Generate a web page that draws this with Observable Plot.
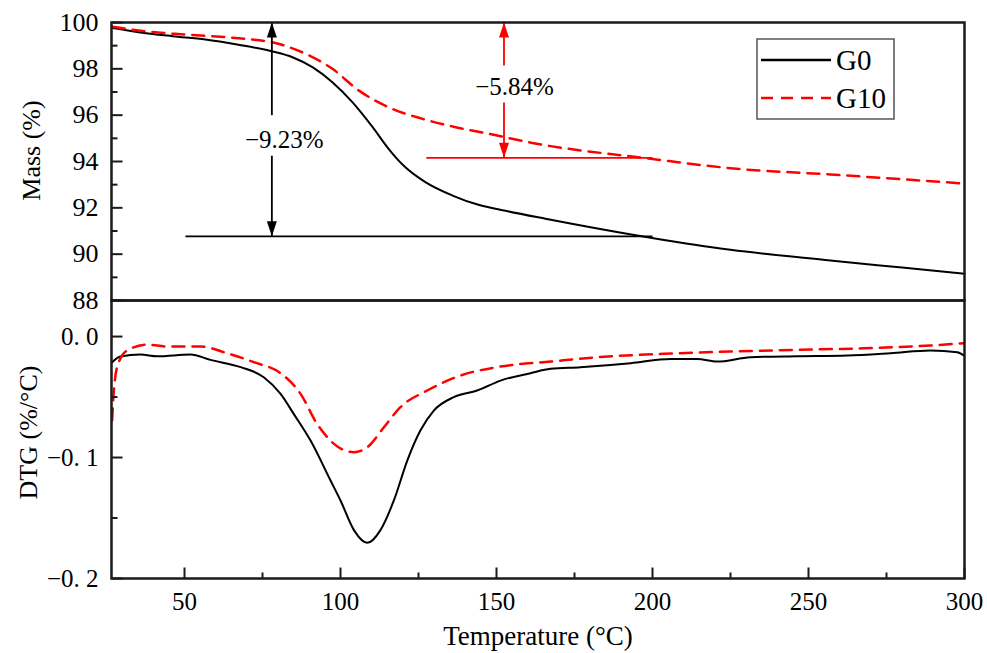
<!DOCTYPE html>
<html><head><meta charset="utf-8">
<script src="https://cdn.jsdelivr.net/npm/d3@7"></script>
<script src="https://cdn.jsdelivr.net/npm/@observablehq/plot@0.6"></script>
<style>
html,body{margin:0;padding:0;background:#fff;}
#chart{position:relative;width:987px;height:653px;font-family:"Liberation Serif","Times New Roman",serif;}
#chart svg{position:absolute;left:0;top:0;}
</style></head><body><div id="chart"></div>
<script>
// ---- data ----
const g0MassT = [27, 35.3, 46.2, 56.7, 67.3, 78.2, 84.6, 91.0, 97.4, 103.8, 110.3, 115.4, 120.8, 127.2, 135.9, 144.2, 152.9, 165.7, 199.4, 225, 257, 280, 300];
const g0Mass  = [99.76, 99.58, 99.41, 99.27, 99.04, 98.75, 98.50, 98.07, 97.42, 96.56, 95.48, 94.55, 93.75, 93.11, 92.53, 92.13, 91.87, 91.53, 90.71, 90.19, 89.73, 89.42, 89.15];
const g10MassT = [27, 35.3, 51.3, 67.3, 80.1, 88.8, 97.4, 105.8, 115.4, 126.3, 136.9, 147.4, 161.5, 199.4, 225, 257, 300];
const g10Mass  = [99.82, 99.65, 99.47, 99.32, 99.08, 98.65, 98.0, 97.07, 96.34, 95.84, 95.48, 95.2, 94.8, 94.12, 93.71, 93.44, 93.05];

const g0DtgT = [26.8, 29.5, 35.9, 41.3, 51.9, 58.3, 68, 75.4, 80.8, 85, 90.4, 96.8, 100, 104.3, 108.6, 112.8, 117.1, 121.4, 125.6, 129.9, 136.3, 143.8, 151.3, 160.9, 167.3, 176.9, 193, 205.8, 214.3, 220.7, 231.4, 246.4, 262.4, 276.3, 289.1, 297.7, 299.8];
const g0Dtg  = [-0.0212, -0.0165, -0.0149, -0.0163, -0.0149, -0.0193, -0.0253, -0.0336, -0.0474, -0.0639, -0.086, -0.119, -0.1355, -0.160, -0.1705, -0.160, -0.1355, -0.1025, -0.0777, -0.0612, -0.0501, -0.0446, -0.0364, -0.0303, -0.0267, -0.0253, -0.0220, -0.0185, -0.0185, -0.0207, -0.0171, -0.0163, -0.0157, -0.0138, -0.0116, -0.0130, -0.0157];
const g10DtgT = [26.8, 27.3, 28.4, 31.6, 38, 44.5, 55.1, 63.7, 72.2, 80.8, 87.2, 92.5, 97.9, 104.3, 108.6, 113.9, 119.2, 127.8, 138.5, 151.3, 167.3, 182.3, 203.6, 225, 246.4, 267.7, 289.1, 299.8];
const g10Dtg  = [-0.0694, -0.047, -0.0253, -0.0116, -0.0066, -0.0083, -0.0083, -0.0138, -0.0212, -0.0303, -0.0474, -0.0722, -0.0887, -0.0956, -0.0915, -0.075, -0.0584, -0.0446, -0.0322, -0.0248, -0.0207, -0.0171, -0.0143, -0.0124, -0.011, -0.0097, -0.0074, -0.0055];

const seriesNames = ["G0", "G10"];
const xTicks = [50, 100, 150, 200, 250, 300];
const xMinorTicks = [75, 125, 175, 225, 275];
const massTicks = [88, 90, 92, 94, 96, 98, 100];
const massMinorTicks = [89, 91, 93, 95, 97, 99];
const dtgTicks = [0, -0.1, -0.2];
const dtgTickLabels = ["0. 0", "\u22120. 1", "\u22120. 2"];
const dtgMinorTicks = [-0.05, -0.15];

// annotations: mass-loss arrows
const annoLabels = ["\u22129.23%", "\u22125.84%"];
const annoT = [78, 152.4];
const annoTop = [100, 100];
const annoBottom = [90.77, 94.16];
const annoGapTop = [96.0, 98.14];
const annoGapBottom = [94.25, 96.55];
const annoBaseStart = [50.3, 127.5];
const annoBaseEnd = [200, 200];
const annoLabelT = [82.0, 155.8];
const annoLabelMass = [94.91, 97.22];

// ---- styling ----
const colors = {G0: "#000000", G10: "#ff0000"};
const dash = {G0: null, G10: "12,8"};
const font = "Liberation Serif, Times New Roman, serif";
const frameColor = "#1a1a1a";
const xDomain = [26.6, 300];
const tf = {fontFamily: font, fill: "#000"};

const toRows = (T, V, s) => T.map((t, i) => ({t, v: V[i], s}));
const massRows = {G0: toRows(g0MassT, g0Mass, "G0"), G10: toRows(g10MassT, g10Mass, "G10")};
const dtgRows = {G0: toRows(g0DtgT, g0Dtg, "G0"), G10: toRows(g10DtgT, g10Dtg, "G10")};
const annos = annoLabels.map((label, i) => ({label, t: annoT[i], top: annoTop[i], bottom: annoBottom[i],
  gTop: annoGapTop[i], gBot: annoGapBottom[i], b0: annoBaseStart[i], b1: annoBaseEnd[i],
  lt: annoLabelT[i], lm: annoLabelMass[i], color: colors[seriesNames[i]]}));

// custom symbols
const upHead = {draw(c){c.moveTo(0,0); c.lineTo(5,15); c.lineTo(-5,15); c.closePath();}};
const downHead = {draw(c){c.moveTo(0,0); c.lineTo(5,-15); c.lineTo(-5,-15); c.closePath();}};
const hTick = len => ({draw(c){c.moveTo(0,0); c.lineTo(len,0);}});
const vTick = len => ({draw(c){c.moveTo(0,0); c.lineTo(0,-len);}});

const common = {
  width: 987, height: 653, marginLeft: 111, marginRight: 23,
  style: {background: "transparent", overflow: "visible", fontFamily: font, fontSize: "25px", color: "#000"}
};

const lineMarks = rows => seriesNames.map(s => Plot.line(rows[s], {x: "t", y: "v", stroke: colors[s],
  strokeWidth: s === "G0" ? 2 : 2.5, strokeDasharray: dash[s], curve: "monotone-x"}));

// ---- top panel: Mass ----
const massPlot = Plot.plot({
  ...common, marginTop: 22, marginBottom: 353,
  x: {domain: xDomain, axis: null},
  y: {domain: [88, 100], axis: null},
  marks: [
    ...lineMarks(massRows),
    Plot.link(annos, {x1: "b0", x2: "b1", y1: "bottom", y2: "bottom", stroke: "color", strokeWidth: 1.8}),
    Plot.link(annos, {x1: "t", x2: "t", y1: "top", y2: "gTop", stroke: "color", strokeWidth: 1.8}),
    Plot.link(annos, {x1: "t", x2: "t", y1: "gBot", y2: "bottom", stroke: "color", strokeWidth: 1.8}),
    Plot.dot(annos, {x: "t", y: "top", symbol: upHead, fill: "color", stroke: "none"}),
    Plot.dot(annos, {x: "t", y: "bottom", symbol: downHead, fill: "color", stroke: "none"}),
    Plot.text(annos, {x: "lt", y: "lm", text: "label", fontSize: 25, ...tf, lineAnchor: "middle"}),
    Plot.dot(massTicks, {y: d => d, frameAnchor: "left", symbol: hTick(11), fill: "none", stroke: frameColor, strokeWidth: 2}),
    Plot.dot(massMinorTicks, {y: d => d, frameAnchor: "left", symbol: hTick(6), fill: "none", stroke: frameColor, strokeWidth: 2}),
    Plot.text(massTicks, {y: d => d, text: d => String(d), frameAnchor: "left", textAnchor: "end", dx: -13, fontSize: 26, ...tf, lineAnchor: "middle"}),
    Plot.text(["Mass (%)"], {frameAnchor: "left", textAnchor: "middle", dx: -80, dy: -11, rotate: -90, fontSize: 26, ...tf, lineAnchor: "middle"}),
    Plot.frame({stroke: frameColor, strokeWidth: 2.5})
  ]
});

// ---- bottom panel: DTG ----
const dtgPlot = Plot.plot({
  ...common, marginTop: 300, marginBottom: 75,
  x: {domain: xDomain, axis: null},
  y: {domain: [-0.2, 0.0298], axis: null},
  marks: [
    ...lineMarks(dtgRows),
    Plot.dot(dtgTicks, {y: d => d, frameAnchor: "left", symbol: hTick(11), fill: "none", stroke: frameColor, strokeWidth: 2}),
    Plot.dot(dtgMinorTicks, {y: d => d, frameAnchor: "left", symbol: hTick(6), fill: "none", stroke: frameColor, strokeWidth: 2}),
    Plot.text(dtgTicks, {y: d => d, text: (d, i) => dtgTickLabels[i], frameAnchor: "left", textAnchor: "end", dx: -13, fontSize: 25, ...tf, lineAnchor: "middle"}),
    Plot.dot(xTicks, {x: d => d, frameAnchor: "bottom", symbol: vTick(11), fill: "none", stroke: frameColor, strokeWidth: 2}),
    Plot.dot(xMinorTicks, {x: d => d, frameAnchor: "bottom", symbol: vTick(6), fill: "none", stroke: frameColor, strokeWidth: 2}),
    Plot.text(xTicks, {x: d => d, text: d => String(d), frameAnchor: "bottom", dy: 23, fontSize: 25, ...tf, lineAnchor: "middle"}),
    Plot.text(["Temperature (\u00b0C)"], {frameAnchor: "bottom", textAnchor: "middle", dy: 58, fontSize: 27, ...tf, lineAnchor: "middle"}),
    Plot.text(["DTG (%/\u00b0C)"], {frameAnchor: "left", textAnchor: "middle", dx: -83, dy: -7, rotate: -90, fontSize: 26, ...tf, lineAnchor: "middle"}),
    Plot.frame({stroke: frameColor, strokeWidth: 2.5})
  ]
});

const chart = document.getElementById("chart");
chart.appendChild(dtgPlot);
chart.appendChild(massPlot);

// ---- legend ----
const lg = d3.select(chart).append("svg").attr("width", 987).attr("height", 653)
  .style("position", "absolute").style("left", 0).style("top", 0).style("overflow", "visible");
lg.append("rect").attr("x", 757).attr("y", 39).attr("width", 137).attr("height", 80)
  .attr("fill", "#fff").attr("stroke", "#555").attr("stroke-width", 1.5);
seriesNames.forEach((s, i) => {
  const y = 60 + i * 38;
  lg.append("line").attr("x1", 761).attr("x2", 831).attr("y1", y).attr("y2", y)
    .attr("stroke", colors[s]).attr("stroke-width", 2.5)
    .attr("stroke-dasharray", dash[s]);
  lg.append("text").attr("x", 836).attr("y", y).attr("dy", "0.35em")
    .attr("font-family", font).attr("font-size", 29).text(s);
});
</script></body></html>
